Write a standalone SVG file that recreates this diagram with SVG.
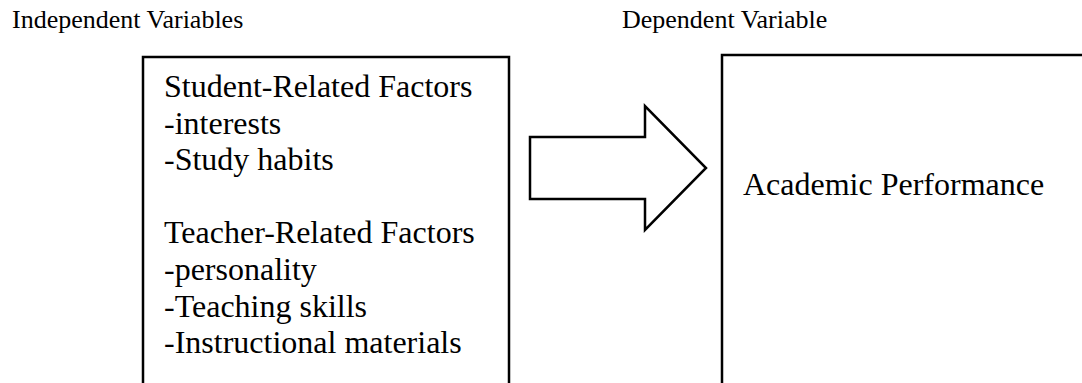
<svg xmlns="http://www.w3.org/2000/svg" width="1082" height="383" viewBox="0 0 1082 383">
  <style>
    .box { fill: #ffffff; stroke: #000000; stroke-width: 2.5; }
    .arrow { fill: #ffffff; stroke: #000000; stroke-width: 2.5; stroke-linejoin: miter; }
    .head { font-family: "Liberation Serif", "Times New Roman", serif; font-size: 26px; fill: #000000; }
    .body { font-family: "Liberation Serif", "Times New Roman", serif; font-size: 32px; fill: #000000; }
  </style>
  <rect width="1082" height="383" fill="#ffffff"/>

  <text class="head" x="12" y="28">Independent Variables</text>
  <text class="head" x="622" y="28">Dependent Variable</text>

  <g id="independent">
    <rect class="box" x="143" y="57" width="366" height="360"/>
    <text class="body" x="164" y="97">Student-Related Factors</text>
    <text class="body" x="164" y="133.6">-interests</text>
    <text class="body" x="164" y="170.2">-Study habits</text>
    <text class="body" x="164" y="243.4">Teacher-Related Factors</text>
    <text class="body" x="164" y="280">-personality</text>
    <text class="body" x="164" y="316.6">-Teaching skills</text>
    <text class="body" x="164" y="353.2">-Instructional materials</text>
  </g>

  <g id="connectors">
    <path class="arrow" d="M530,137 L645,137 L645,106 L706,168 L645,230 L645,199 L530,199 Z"/>
  </g>

  <g id="dependent">
    <rect class="box" x="722" y="55" width="400" height="360"/>
    <text class="body" x="743" y="195">Academic Performance</text>
  </g>
</svg>
